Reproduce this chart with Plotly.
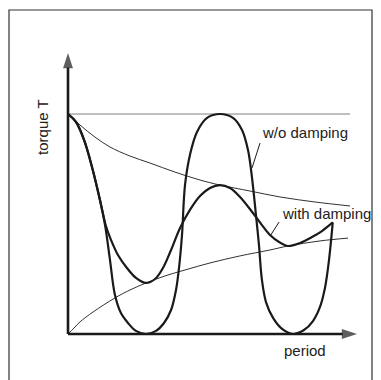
import plotly.graph_objects as go

# ---- data (period t, torque T normalised to the undamped peak) ----
undamped_t = [0, 0.053, 0.107, 0.16, 0.213, 0.247, 0.28, 0.313, 0.353, 0.4, 0.453, 0.52,
              0.587, 0.64, 0.687, 0.72, 0.74, 0.76, 0.78, 0.813, 0.86, 0.927, 1.013,
              1.1, 1.16, 1.2, 1.227, 1.253, 1.273, 1.293, 1.32, 1.367, 1.427, 1.5,
              1.573, 1.633, 1.68, 1.713, 1.74, 1.765]
undamped_T = [1.0, 0.964, 0.882, 0.759, 0.609, 0.495, 0.336, 0.177, 0.095, 0.05, 0.014, 0.0,
              0.014, 0.05, 0.109, 0.2, 0.3, 0.45, 0.677, 0.814, 0.918, 0.982, 1.0,
              0.982, 0.927, 0.836, 0.709, 0.541, 0.405, 0.245, 0.145, 0.073, 0.023, 0.0,
              0.018, 0.059, 0.123, 0.209, 0.336, 0.507]

damped_t = [0, 0.053, 0.107, 0.16, 0.213, 0.253, 0.287, 0.333, 0.393, 0.453, 0.52, 0.58,
            0.633, 0.687, 0.747, 0.813, 0.88, 0.947, 1.013, 1.08, 1.147, 1.233, 1.293,
            1.347, 1.407, 1.467, 1.547, 1.627, 1.693, 1.765]
damped_T = [1.0, 0.964, 0.882, 0.759, 0.609, 0.491, 0.427, 0.359, 0.3, 0.255, 0.232, 0.25,
            0.3, 0.382, 0.482, 0.564, 0.627, 0.664, 0.677, 0.664, 0.623, 0.55, 0.495,
            0.45, 0.418, 0.4, 0.414, 0.441, 0.468, 0.507]

upper_t = [0, 0.08, 0.18, 0.28, 0.413, 0.547, 0.713, 0.88, 1.013, 1.213, 1.413, 1.647, 1.88]
upper_T = [1.0, 0.95, 0.895, 0.85, 0.809, 0.777, 0.736, 0.7, 0.677, 0.65, 0.623, 0.6, 0.582]

lower_t = [0, 0.04, 0.08, 0.167, 0.313, 0.413, 0.52, 0.647, 0.78, 0.947, 1.147, 1.347, 1.467, 1.68, 1.867]
lower_T = [0, 0.027, 0.055, 0.1, 0.164, 0.2, 0.232, 0.264, 0.291, 0.323, 0.355, 0.382, 0.4, 0.423, 0.436]

peak_line_t = [0, 1.88]
peak_line_T = [1.0, 1.0]

x_axis_t = [0, 1.927]
x_axis_T = [0, 0]
y_axis_t = [0, 0]
y_axis_T = [0, 1.277]

lead_wo_t = [1.28, 1.227]
lead_wo_T = [0.868, 0.755]
lead_with_t = [1.407, 1.347]
lead_with_T = [0.509, 0.445]

labels = {"wo": "w/o damping", "with": "with damping", "x": "period", "y": "torque T"}

INK = "#1a1a1a"
FONT = "Liberation Sans, Arial, sans-serif"

fig = go.Figure()

def line(x, y, w, color=INK, spline=True):
    fig.add_trace(go.Scatter(x=x, y=y, mode="lines",
                             line=dict(color=color, width=w, shape="spline" if spline else "linear"),
                             hoverinfo="skip", showlegend=False))

line(peak_line_t, peak_line_T, 1.0, color="#808080", spline=False)
line(upper_t, upper_T, 0.9)
line(lower_t, lower_T, 0.9)
line(undamped_t, undamped_T, 2.2)
line(damped_t, damped_T, 2.2)
line(lead_wo_t, lead_wo_T, 1.0, spline=False)
line(lead_with_t, lead_with_T, 1.0, spline=False)

# axes with arrow heads
for xs, ys in [(x_axis_t, x_axis_T), (y_axis_t, y_axis_T)]:
    fig.add_trace(go.Scatter(x=xs, y=ys, mode="lines+markers",
                             line=dict(color=INK, width=2.6),
                             marker=dict(symbol="arrow", size=[0, 16], angleref="previous",
                                         color=INK, line=dict(width=0)),
                             hoverinfo="skip", showlegend=False))

def text(x, y, s, xanchor="left", angle=0):
    fig.add_annotation(x=x, y=y, text=s, showarrow=False, xanchor=xanchor, yanchor="middle",
                       textangle=angle, font=dict(family=FONT, size=15, color="#222"))

text(1.28, 0.918, labels["wo"])
text(1.413, 0.55, labels["with"])
text(1.58, -0.073, labels["x"], xanchor="center")
text(-0.167, 0.941, labels["y"], xanchor="center", angle=-90)

fig.add_shape(type="rect", xref="paper", yref="paper",
              x0=9 / 381, x1=372 / 381, y0=-0.05, y1=1 - 10 / 380,
              line=dict(color="#333", width=1.2), fillcolor="rgba(0,0,0,0)")

fig.update_layout(
    width=381, height=380, margin=dict(l=0, r=0, t=0, b=0),
    paper_bgcolor="white", plot_bgcolor="white", showlegend=False,
    xaxis=dict(visible=False, range=[-68 / 150, 313 / 150], fixedrange=True),
    yaxis=dict(visible=False, range=[-46 / 220, 334 / 220], fixedrange=True),
)

fig.write_html("out.html", config={"displayModeBar": False},
               post_script="document.body.style.margin='0px';document.documentElement.style.overflow='hidden';")
